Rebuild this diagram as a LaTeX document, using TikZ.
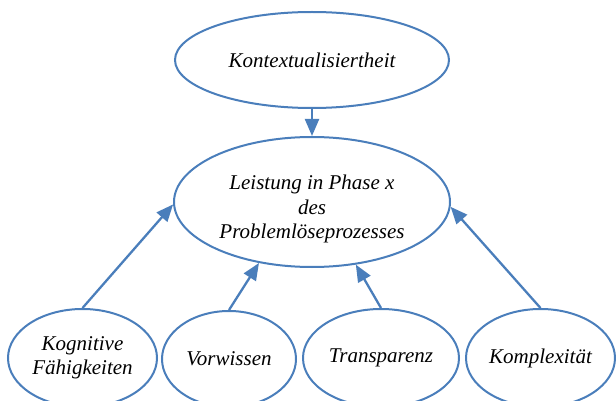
\documentclass[tikz,border=0pt]{standalone}
\usepackage{fontspec}
\setmainfont{Liberation Serif}
\usetikzlibrary{shapes.geometric,arrows.meta}
\definecolor{lineblue}{RGB}{74,126,187}
\begin{document}
\begin{tikzpicture}[x=1pt,y=-1pt,
  oval/.style={ellipse, draw=lineblue, line width=2pt, inner sep=0pt, align=center,
    font=\fontsize{21}{24.5}\selectfont\itshape},
  arr/.style={draw=lineblue, line width=2.3pt, -{Triangle[length=17pt,width=14pt]}}]
\useasboundingbox (0,0) rectangle (616,401);
\clip (0,0) rectangle (616,401);
\node[oval, minimum width=274pt, minimum height=96pt] (ctx) at (312,60) {Kontextualisiertheit};
\node[oval, minimum width=276pt, minimum height=130pt] (mid) at (312,202)
  {\begin{tabular}{@{}c@{}}\\[-10pt]Leistung in Phase x\\des\\Problemlöseprozesses\end{tabular}};
\node[oval, minimum width=149pt, minimum height=98pt] (kog) at (82.5,358) {Kognitive\\Fähigkeiten};
\node[oval, minimum width=134pt, minimum height=96pt] (vor) at (229,359) {Vorwissen};
\node[oval, minimum width=156pt, minimum height=98pt] (tra) at (381,358) {Transparenz};
\node[oval, minimum width=149pt, minimum height=98pt] (kom) at (540.5,358) {Komplexität};
\draw[arr] (ctx.south) -- (mid.north);
\draw[arr] (kog.north) -- (mid.181);
\draw[arr] (vor.north) -- (mid.229);
\draw[arr] (tra.north) -- (mid.305);
\draw[arr] (kom.north) -- (mid.358);
\end{tikzpicture}
\end{document}
